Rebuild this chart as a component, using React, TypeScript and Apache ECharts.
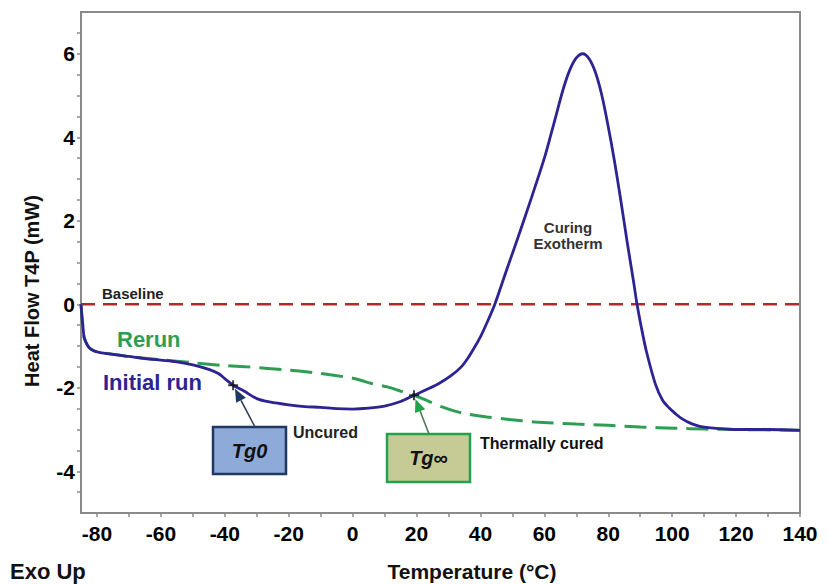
import React, { useEffect, useRef } from "react";
import * as echarts from "echarts";

const initialTemps = [-85, -84.7, -84.3, -84, -83, -82, -80, -75, -70, -65, -60, -55, -50, -45, -42, -40, -37.4, -34, -30, -26, -20, -15, -10, -5, 0, 5, 10, 15, 19.2, 23, 27, 31, 34, 36, 38, 40, 42, 44.5, 48, 51.8, 56, 60, 62, 64, 66, 68, 70, 72, 74, 76, 78, 80, 82, 84, 86, 88, 89, 90.6, 92, 94.7, 97, 99, 101, 103, 106, 109, 115, 120, 130, 140];
const initialHeat = [0, -0.3, -0.6, -0.8, -0.98, -1.07, -1.14, -1.2, -1.25, -1.3, -1.34, -1.38, -1.45, -1.56, -1.66, -1.78, -1.94, -2.08, -2.26, -2.34, -2.41, -2.45, -2.47, -2.5, -2.51, -2.49, -2.44, -2.33, -2.18, -2.05, -1.9, -1.7, -1.5, -1.3, -1.05, -0.78, -0.45, 0.0, 0.78, 1.61, 2.56, 3.5, 4.05, 4.62, 5.18, 5.62, 5.9, 6.0, 5.88, 5.55, 5.0, 4.25, 3.4, 2.45, 1.45, 0.5, 0.0, -0.65, -1.15, -1.9, -2.3, -2.48, -2.62, -2.74, -2.86, -2.93, -2.98, -3.0, -3.0, -3.02];

const rerunTemps = [-85, -84.7, -84.3, -84, -83, -82, -80, -70, -60, -50, -40, -33, -20, -10, 0, 2.5, 6, 10.9, 15, 19.2, 24, 28, 32, 36, 42, 49, 57, 70, 80, 90, 101, 110, 120, 140];
const rerunHeat = [0, -0.3, -0.6, -0.8, -0.98, -1.07, -1.14, -1.25, -1.33, -1.4, -1.47, -1.5, -1.58, -1.66, -1.77, -1.82, -1.9, -1.98, -2.08, -2.18, -2.33, -2.46, -2.56, -2.63, -2.7, -2.76, -2.82, -2.87, -2.9, -2.94, -2.97, -2.99, -3.0, -3.02];

const baselineTemps = [-85, 140];
const baselineHeat = [0, 0];

const tgLabels = ["Tg0", "Tg∞"];
const tgTemps = [-37.4, 19.2];
const tgHeat = [-1.94, -2.18];

const xTickLabels = [-80, -60, -40, -20, 0, 20, 40, 60, 80, 100, 120, 140];
const xTickMarks = [-80, -70, -60, -50, -40, -30, -20, -10, 0, 10, 20, 30, 40, 50, 60, 70, 80, 90, 100, 110, 120, 130, 140];
const yTickLabels = [-4, -2, 0, 2, 4, 6];
const yTickMarks = [-4.5, -4, -3.5, -3, -2.5, -2, -1.5, -1, -0.5, 0, 0.5, 1, 1.5, 2, 2.5, 3, 3.5, 4, 4.5, 5, 5.5, 6, 6.5];

const FONT = '"Liberation Sans", Arial, Helvetica, sans-serif';
const BLUE = "#2d2392";
const GREEN = "#2f9e55";
const RED = "#b02a2a";
const AXIS = "#8a8a8a";

function zip(xs: number[], ys: number[]) {
  return xs.map((x, i) => [x, ys[i]]);
}

function arrow(from: number[], to: number[], shaft: string, head: string) {
  const dx = to[0] - from[0];
  const dy = to[1] - from[1];
  const len = Math.hypot(dx, dy);
  const ux = dx / len;
  const uy = dy / len;
  const tip = [to[0] - ux * 4, to[1] - uy * 4];
  const headLen = 13;
  const headW = 5.5;
  const base = [tip[0] - ux * headLen, tip[1] - uy * headLen];
  const nx = -uy;
  const ny = ux;
  return [
    {
      type: "line",
      z: 50,
      shape: { x1: from[0], y1: from[1], x2: base[0], y2: base[1] },
      style: { stroke: shaft, lineWidth: 1.6 },
    },
    {
      type: "polygon",
      z: 51,
      shape: {
        points: [
          tip,
          [base[0] + nx * headW, base[1] + ny * headW],
          [base[0] - nx * headW, base[1] - ny * headW],
        ],
      },
      style: { fill: head },
    },
  ];
}

function label(text: string, x: number, y: number, size: number, color: string, extra: any = {}) {
  return {
    type: "text",
    z: 60,
    x,
    y,
    style: {
      text,
      fill: color,
      font: `bold ${size}px ${FONT}`,
      align: "left",
      verticalAlign: "middle",
      ...extra,
    },
  };
}

export default function App() {
  const ref = useRef<HTMLDivElement>(null);

  useEffect(() => {
    if (!ref.current) return;
    const chart = echarts.init(ref.current, null, { renderer: "svg" });
    chart.setOption({
      animation: false,
      backgroundColor: "#ffffff",
      grid: {
        left: 81,
        right: 28,
        top: 12,
        bottom: 71,
        show: true,
        borderColor: AXIS,
        borderWidth: 2,
        backgroundColor: "transparent",
      },
      xAxis: {
        type: "value",
        min: -85,
        max: 140,
        splitLine: { show: false },
        axisLine: { show: true, onZero: false, lineStyle: { color: AXIS, width: 2 } },
        axisTick: { show: true, length: 4, customValues: xTickMarks, lineStyle: { color: AXIS, width: 1.5 } },
        axisLabel: {
          customValues: xTickLabels,
          margin: 10,
          color: "#000",
          fontFamily: FONT,
          fontWeight: "bold",
          fontSize: 21,
        },
      },
      yAxis: {
        type: "value",
        min: -5,
        max: 7,
        splitLine: { show: false },
        axisLine: { show: true, onZero: false, lineStyle: { color: AXIS, width: 2 } },
        axisTick: { show: true, length: 4, customValues: yTickMarks, lineStyle: { color: AXIS, width: 1.5 } },
        axisLabel: {
          customValues: yTickLabels,
          margin: 6,
          color: "#000",
          fontFamily: FONT,
          fontWeight: "bold",
          fontSize: 21,
        },
      },
      series: [
        {
          name: "Baseline",
          type: "line",
          data: zip(baselineTemps, baselineHeat),
          showSymbol: false,
          silent: true,
          lineStyle: { color: RED, width: 2.5, type: [14, 8] },
          z: 2,
        },
        {
          name: "Rerun",
          type: "line",
          data: zip(rerunTemps, rerunHeat),
          showSymbol: false,
          smooth: 0.3,
          lineStyle: { color: GREEN, width: 3, type: [22, 9] },
          z: 3,
        },
        {
          name: "Initial run",
          type: "line",
          data: zip(initialTemps, initialHeat),
          showSymbol: false,
          smooth: 0.3,
          lineStyle: { color: BLUE, width: 2.8 },
          z: 4,
        },
        {
          name: "Tg",
          type: "scatter",
          data: tgTemps.map((t, i) => ({ value: [t, tgHeat[i]], name: tgLabels[i] })),
          symbol: "path://M4,0h2v10h-2zM0,4h10v2h-10z",
          symbolSize: 10,
          itemStyle: { color: "#111" },
          z: 5,
        },
      ],
    });

    const p0 = chart.convertToPixel({ gridIndex: 0 }, [tgTemps[0], tgHeat[0]]) as number[];
    const p1 = chart.convertToPixel({ gridIndex: 0 }, [tgTemps[1], tgHeat[1]]) as number[];

    const graphics: any[] = [
      {
        type: "rect",
        z: 40,
        shape: { x: 213, y: 427, width: 73, height: 47 },
        style: { fill: "#8eaad9", stroke: "#1f3864", lineWidth: 2.5 },
      },
      {
        type: "text",
        z: 60,
        x: 249.5,
        y: 451,
        style: {
          text: tgLabels[0],
          fill: "#111",
          font: `italic bold 20px ${FONT}`,
          align: "center",
          verticalAlign: "middle",
        },
      },
      {
        type: "rect",
        z: 40,
        shape: { x: 387, y: 434, width: 83, height: 48 },
        style: { fill: "#c6ca94", stroke: "#22a24c", lineWidth: 2.5 },
      },
      {
        type: "text",
        z: 60,
        x: 428.5,
        y: 458,
        style: {
          text: tgLabels[1],
          fill: "#111",
          font: `italic bold 20px ${FONT}`,
          align: "center",
          verticalAlign: "middle",
        },
      },
      ...arrow([255, 427], p0, "#2e3d5c", "#1f3864"),
      ...arrow([429, 434], p1, "#4f7a5e", "#22a24c"),
      label("Baseline", 102, 293, 15, "#222"),
      label("Rerun", 117, 339, 22, GREEN),
      label("Initial run", 103, 382, 22, BLUE),
      label("Uncured", 293, 432, 16, "#222"),
      label("Thermally cured", 480, 443, 16, "#111"),
      label("Curing\nExotherm", 568, 235, 15, "#333", { align: "center", lineHeight: 16 }),
      label("Exo Up", 10, 571, 22, "#111"),
      label("Temperature (°C)", 472, 571, 21, "#111", { align: "center" }),
      {
        type: "text",
        z: 60,
        x: 32,
        y: 291,
        rotation: Math.PI / 2,
        style: {
          text: "Heat Flow T4P (mW)",
          fill: "#111",
          font: `bold 20px ${FONT}`,
          align: "center",
          verticalAlign: "middle",
        },
      },
    ];

    chart.setOption({ graphic: graphics });

    return () => {
      chart.dispose();
    };
  }, []);

  return (
    <div
      ref={ref}
      style={{ position: "fixed", left: 0, top: 0, width: 828, height: 584, background: "#fff" }}
    />
  );
}
